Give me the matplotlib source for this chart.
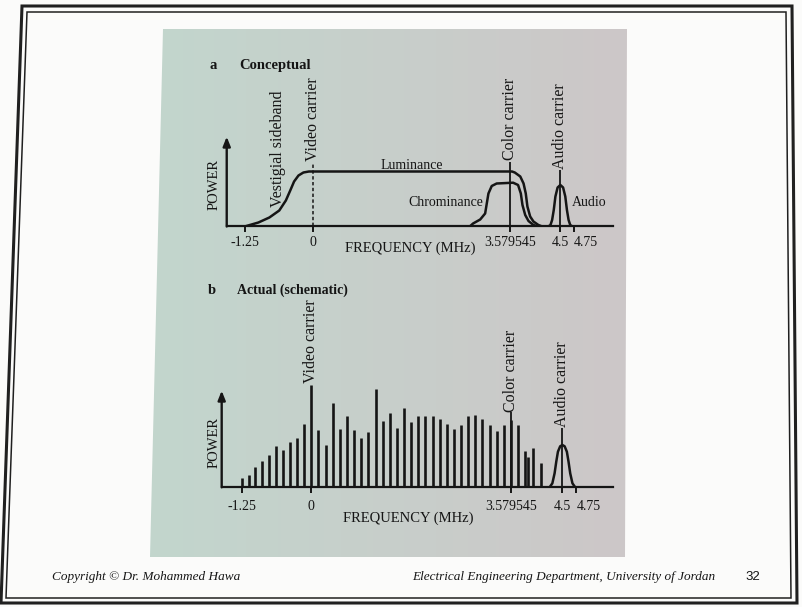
import numpy as np
import matplotlib
matplotlib.use('Agg')
import matplotlib.pyplot as plt
from matplotlib.patches import Polygon

plt.rcParams['font.family'] = ['Liberation Serif', 'DejaVu Serif']

W, H = 803, 607
INK = '#151515'

# ---------------- data ----------------
tick_freqs = [-1.25, 0, 3.579545, 4.5, 4.75]
tick_labels = ['-1.25', '0', '3.579545', '4.5', '4.75']
video_carrier = 0.0
color_carrier = 3.579545
audio_carrier = 4.5

# (a) conceptual spectrum (relative power)
lum_freqs = [-1.25, -1.0, -0.8, -0.62, -0.5, -0.42, -0.35, -0.27, -0.18, -0.08, 0.0,
             3.62, 3.67, 3.77, 3.83, 3.87, 3.90, 3.95, 4.01, 4.10, 4.17]
lum_power = [0, 4, 9, 16, 26, 36, 45, 51, 54, 55, 55,
             55, 54, 50, 43, 33, 20, 10, 5, 1.5, 0]
chroma_freqs = [2.85, 2.91, 3.04, 3.13, 3.16, 3.19, 3.25, 3.34, 3.64, 3.73, 3.78,
                3.81, 3.86, 3.92, 4.01, 4.09]
chroma_power = [0, 3, 7, 13, 23, 33, 40.5, 43, 43.8, 41.5, 33,
                21.5, 11.5, 5.5, 1.5, 0]
audio_a_freqs = [4.28, 4.32, 4.35, 4.38, 4.41, 4.45, 4.5, 4.55, 4.59, 4.62, 4.65, 4.68, 4.72]
audio_a_power = [0, 1.5, 6.5, 16.5, 30, 39, 41.5, 39, 30, 16.5, 6.5, 1.5, 0]

# (b) actual (schematic) line spectrum
bar_freqs = [-1.25, -1.125, -1.0, -0.875, -0.75, -0.625, -0.5, -0.375, -0.25, -0.125,
             0.0, 0.128, 0.256, 0.384, 0.511, 0.639, 0.767, 0.895, 1.023, 1.151,
             1.278, 1.406, 1.534, 1.662, 1.790, 1.918, 2.045, 2.173, 2.301, 2.429,
             2.557, 2.685, 2.812, 2.940, 3.068, 3.196, 3.324, 3.452, 3.580, 3.707,
             3.83, 3.89, 3.97, 4.11]
bar_power = [9, 12, 20, 26, 32, 41, 37, 45, 49, 63,
             102, 57, 42, 84, 58, 71, 57, 49, 55, 98,
             66, 74, 59, 79, 65, 71, 71, 71, 68, 63,
             58, 62, 71, 72, 68, 62, 56, 62, 67, 62,
             36, 30, 39, 24]
audio_b_freqs = [4.27, 4.32, 4.36, 4.39, 4.42, 4.46, 4.5, 4.54, 4.58, 4.61, 4.64, 4.68, 4.73]
audio_b_power = [0, 4, 14, 25.6, 35.6, 41, 42.3, 41, 35.6, 25.6, 14, 4, 0]

# ---------------- figure ----------------
fig = plt.figure(figsize=(W / 100, H / 100), dpi=100)
fig.patch.set_facecolor('#fbfbfa')


def fr(x0, y0, x1, y1):
    return [x0 / W, 1 - y1 / H, (x1 - x0) / W, (y1 - y0) / H]


bg = fig.add_axes([0, 0, 1, 1])
bg.set_xlim(0, W)
bg.set_ylim(H, 0)
bg.axis('off')

# photographed figure area (gradient grey/green)
left_c = np.array([194, 214, 205]) / 255
right_c = np.array([205, 199, 200]) / 255
t = np.linspace(0, 1, 256)
grad = (left_c[None, :] * (1 - t[:, None]) + right_c[None, :] * t[:, None])[None, :, :]
photo_poly = Polygon([(163, 29), (627, 29), (625, 557), (150, 557)], closed=True,
                     facecolor='none', edgecolor='none')
bg.add_patch(photo_poly)
im = bg.imshow(grad, extent=(150, 627, 558, 28), aspect='auto', interpolation='bilinear')
im.set_clip_path(photo_poly)
bg.set_xlim(0, W)
bg.set_ylim(H, 0)

# slide frame
bg.add_patch(Polygon([(22, 6), (792, 6), (797, 603), (1, 603)], closed=True,
                     fill=False, lw=2.2, edgecolor='#202020'))
bg.add_patch(Polygon([(27, 12), (786, 12), (791, 598), (6, 598)], closed=True,
                     fill=False, lw=1.1, edgecolor='#202020'))

# footer
fig.text(52 / W, 1 - 577 / H, 'Copyright \u00a9 Dr. Mohammed Hawa', fontsize=9.5,
         style='italic', color=INK, ha='left', va='center')
fig.text(412 / W, 1 - 577 / H, 'Electrical Engineering Department, University of Jordan',
         fontsize=9.5, style='italic', color=INK, ha='left', va='center')
fig.text(745 / W, 1 - 577 / H, '32', fontsize=9.5, color=INK, ha='left', va='center',
         family=['Liberation Sans', 'DejaVu Sans'])


def style_axis(ax, x_start, x_end, arrow_top, pad):
    ax.patch.set_alpha(0)
    for s in ['top', 'right', 'left']:
        ax.spines[s].set_visible(False)
    ax.spines['bottom'].set_bounds(x_start, x_end)
    ax.spines['bottom'].set_linewidth(1.6)
    ax.spines['bottom'].set_color(INK)
    ax.set_yticks([])
    ax.set_xticks(tick_freqs, tick_labels)
    ax.tick_params(axis='x', direction='out', length=4, width=1.4, color=INK,
                   labelsize=10, pad=pad, labelcolor=INK)
    lbls = ax.get_xticklabels()
    lbls[4].set_horizontalalignment('left')
    ax.annotate('', xy=(x_start, arrow_top), xytext=(x_start, 0),
                arrowprops=dict(arrowstyle='-|>,head_width=0.22,head_length=0.55',
                                lw=1.7, color=INK, shrinkA=0, shrinkB=0))


# ---------------- (a) Conceptual ----------------
ax1 = fig.add_axes(fr(200, 60, 625, 226.5))
ax1.set_xlim((200 - 313.3) / 54.9, (625 - 313.3) / 54.9)
ax1.set_ylim(0, 166.5)
style_axis(ax1, -1.577, 5.464, 89.8, 3)

ax1.plot(lum_freqs, lum_power, color=INK, lw=1.8, solid_joinstyle='round')
ax1.plot(chroma_freqs, chroma_power, color=INK, lw=1.8, solid_joinstyle='round')
ax1.plot(audio_a_freqs, audio_a_power, color=INK, lw=1.8, solid_joinstyle='round')
ax1.vlines(video_carrier, 0, 63, color=INK, lw=1.1, linestyles=(0, (2.2, 1.6)))
ax1.vlines(color_carrier, 0, 64.8, color=INK, lw=1.3)
ax1.vlines(audio_carrier, 0, 56.5, color=INK, lw=1.3)

rot_kw = dict(rotation=90, ha='center', va='bottom', fontsize=11.5, color=INK)
ax1.text(video_carrier, 65.5, 'Video carrier', **rot_kw)
ax1.text(color_carrier, 66, 'Color carrier', **rot_kw)
ax1.text(audio_carrier, 57.5, 'Audio carrier', **rot_kw)
ax1.text(-0.643, 19.5, 'Vestigial sideband', **rot_kw)
ax1.text(1.79, 60.5, 'Luminance', fontsize=10, color=INK, ha='center', va='center')
ax1.text(3.10, 23.8, 'Chrominance', fontsize=10, color=INK, ha='right', va='center')
ax1.text(4.71, 23.8, 'Audio', fontsize=10, color=INK, ha='left', va='center')
ax1.text(-1.80, 41.5, 'POWER', rotation=90, fontsize=10.5, color=INK,
         ha='center', va='center')
ax1.text(1.76, -21.5, 'FREQUENCY (MHz)', fontsize=10.5, color=INK, ha='center',
         va='center')
ax1.text(-1.83, 161, 'a', fontsize=10.5, fontweight='bold', color=INK,
         ha='center', va='center')
ax1.text(-1.34, 161, 'Conceptual', fontsize=10.5, fontweight='bold', color=INK,
         ha='left', va='center')

# ---------------- (b) Actual (schematic) ----------------
ax2 = fig.add_axes(fr(200, 280, 625, 487.3))
ax2.set_xlim((200 - 311.3) / 55.8, (625 - 311.3) / 55.8)
ax2.set_ylim(0, 207.3)
style_axis(ax2, -1.606, 5.407, 96.6, 5)

ax2.vlines(bar_freqs, 0, bar_power, color=INK, lw=1.9)
ax2.plot(audio_b_freqs, audio_b_power, color=INK, lw=1.8, solid_joinstyle='round')
ax2.vlines(color_carrier, 0, 75.3, color=INK, lw=1.3)
ax2.vlines(audio_carrier, 0, 59.5, color=INK, lw=1.3)

ax2.text(video_carrier, 104.3, 'Video carrier', **rot_kw)
ax2.text(color_carrier, 75.5, 'Color carrier', **rot_kw)
ax2.text(audio_carrier, 60.5, 'Audio carrier', **rot_kw)
ax2.text(-1.75, 44.3, 'POWER', rotation=90, fontsize=10.5, color=INK,
         ha='center', va='center')
ax2.text(1.73, -30.7, 'FREQUENCY (MHz)', fontsize=10.5, color=INK, ha='center',
         va='center')
ax2.text(-1.785, 197.3, 'b', fontsize=10.5, fontweight='bold', color=INK,
         ha='center', va='center')
ax2.text(-1.333, 197.3, 'Actual (schematic)', fontsize=10, fontweight='bold',
         color=INK, ha='left', va='center')

fig.savefig('out.png', dpi=100, facecolor=fig.get_facecolor())
